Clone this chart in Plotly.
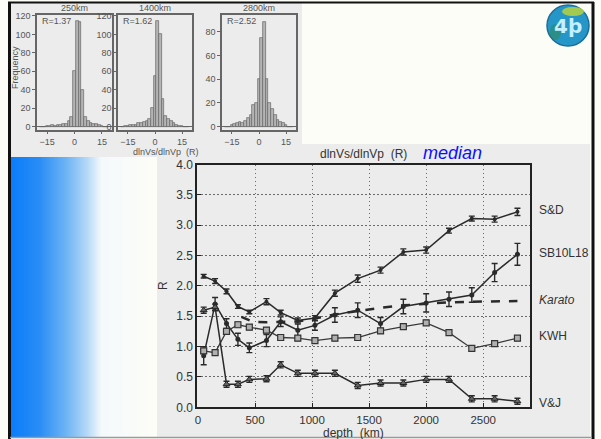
import plotly.graph_objects as go

W, H = 601, 439

# ---- main panel data: dlnVs/dlnVp ratio (median) versus depth ----
depth = [50, 150, 250, 350, 450, 600, 725, 875, 1025, 1200, 1400, 1600, 1800, 2000, 2200, 2400, 2600, 2800]

sd_r = [2.16, 2.08, 1.91, 1.66, 1.57, 1.74, 1.56, 1.43, 1.47, 1.88, 2.12, 2.26, 2.56, 2.59, 2.91, 3.11, 3.10, 3.22]
sd_err = [0.03, 0.04, 0.04, 0.03, 0.03, 0.05, 0.04, 0.04, 0.04, 0.05, 0.06, 0.05, 0.05, 0.05, 0.04, 0.04, 0.05, 0.06]

sb_r = [0.85, 1.70, 1.38, 1.12, 0.98, 1.10, 1.41, 1.27, 1.35, 1.52, 1.60, 1.38, 1.66, 1.72, 1.78, 1.85, 2.22, 2.52]
sb_err = [0.15, 0.11, 0.08, 0.10, 0.08, 0.10, 0.08, 0.10, 0.08, 0.12, 0.12, 0.10, 0.12, 0.15, 0.12, 0.12, 0.15, 0.18]

kwh_r = [0.93, 0.90, 1.25, 1.36, 1.32, 1.27, 1.15, 1.14, 1.10, 1.14, 1.15, 1.26, 1.33, 1.39, 1.23, 0.97, 1.05, 1.14]
kwh_err = [0.04] * 18

vj_r = [1.60, 1.65, 0.38, 0.38, 0.46, 0.47, 0.70, 0.56, 0.56, 0.56, 0.36, 0.40, 0.40, 0.46, 0.46, 0.14, 0.14, 0.10]
vj_err = [0.05] * 18

karato_depth = [380, 480, 600, 700, 800, 900, 1000, 1100, 1200, 1400, 1600, 1800, 2000, 2200, 2400, 2600, 2800]
karato_r = [1.49, 1.41, 1.40, 1.40, 1.41, 1.42, 1.45, 1.49, 1.53, 1.59, 1.64, 1.68, 1.71, 1.73, 1.74, 1.75, 1.75]

series_labels = ["S&D", "SB10L18", "<i>Karato</i>", "KWH", "V&J"]
series_label_r = [3.25, 2.55, 1.77, 1.17, 0.07]

# ---- histogram insets: distribution of R at three depths ----
hist_titles = ["250km", "1400km", "2800km"]
hist_medians = ["R=1.37", "R=1.62", "R=2.52"]
bin_centers = [-18, -16.5, -15, -13.5, -12, -10.5, -9, -7.5, -6, -4.5, -3, -1.5, 0,
               1.5, 3, 4.5, 6, 7.5, 9, 10.5, 12, 13.5, 15, 16.5, 18]
counts_250 = [0, 0, 1, 1, 2, 1, 2, 2, 3, 3, 6, 10, 60, 115, 113, 40, 10, 6, 4, 3, 3, 2, 1, 0, 0]
counts_1400 = [0, 1, 1, 2, 2, 2, 4, 4, 5, 6, 8, 20, 55, 115, 100, 30, 12, 8, 6, 4, 2, 1, 1, 0, 0]
counts_2800 = [0, 0, 1, 2, 3, 4, 3, 5, 7, 10, 18, 20, 40, 75, 88, 40, 20, 15, 10, 6, 4, 3, 1, 0, 0]
hist_counts = [counts_250, counts_1400, counts_2800]
hist_yranges = [[-3.6, 121], [-3.6, 121], [-2.8, 94]]
hist_ytick = [[0, 20, 40, 60, 80, 100, 120], [0, 20, 40, 60, 80, 100, 120], [0, 20, 40, 60, 80]]
hist_x_px = [(37, 112), (118, 192), (222, 296)]

# blue side-band colour stops
band_pos = [0, 1, 2, 3, 4, 5, 6, 7, 8, 9, 10]


def fx(x):
    return x / W


def fy(y):
    return 1 - y / H


fig = go.Figure()

ink = "#2a2a2a"
line_style = dict(color=ink, width=1.5)


def err_style(e):
    return dict(type="data", array=e, visible=True, color=ink, thickness=1.4, width=3)


fig.add_trace(go.Scatter(x=depth, y=sd_r, error_y=err_style(sd_err), mode="lines+markers",
                         line=line_style, marker=dict(symbol="circle", size=4, color=ink),
                         name="S&D", showlegend=False))
fig.add_trace(go.Scatter(x=depth, y=sb_r, error_y=err_style(sb_err), mode="lines+markers",
                         line=line_style, marker=dict(symbol="circle", size=5, color=ink),
                         name="SB10L18", showlegend=False))
fig.add_trace(go.Scatter(x=karato_depth, y=karato_r, mode="lines",
                         line=dict(color=ink, width=2.5, dash="dash"),
                         name="Karato", showlegend=False))
fig.add_trace(go.Scatter(x=depth, y=kwh_r, error_y=err_style(kwh_err), mode="lines+markers",
                         line=dict(color="#3a3a3a", width=1.3),
                         marker=dict(symbol="square", size=6, color="#b0b0b0", line=dict(color="#333", width=1.2)),
                         name="KWH", showlegend=False))
fig.add_trace(go.Scatter(x=depth, y=vj_r, error_y=err_style(vj_err), mode="lines+markers",
                         line=line_style,
                         marker=dict(symbol="triangle-up", size=6, color="#666", line=dict(color="#222", width=1)),
                         name="V&J", showlegend=False))

# histogram insets
for i in range(3):
    k = i + 2
    fig.add_trace(go.Bar(x=bin_centers, y=hist_counts[i], width=1.5,
                         marker=dict(color="#b4b4b4", line=dict(color="#666", width=0.7)),
                         xaxis=f"x{k}", yaxis=f"y{k}", showlegend=False))

# blue gradient band at the left edge
fig.add_trace(go.Heatmap(z=[band_pos, band_pos], x=band_pos, y=[0, 1], zsmooth="best",
                         colorscale=[[0, "#0a7cfc"], [0.2, "#2a8df4"], [0.38, "#6db5f4"],
                                     [0.52, "#b6d9f7"], [0.62, "#f4f9fb"], [1, "#fdfdf7"]],
                         showscale=False, hoverinfo="skip", xaxis="x5", yaxis="y5"))

axis_font = dict(family="Liberation Sans, Arial", size=12, color="#333")
grid_common = dict(showgrid=True, gridcolor="#6a6a6a", griddash="1.5px,2.5px", gridwidth=1,
                   showline=True, linecolor="#222", linewidth=2, mirror=True, zeroline=False,
                   ticks="inside", ticklen=4, tickcolor="#222", automargin=False)
layout = dict(
    width=W, height=H, margin=dict(l=0, r=0, t=0, b=0, pad=0, autoexpand=False),
    paper_bgcolor="#fdfdf7", plot_bgcolor="rgba(0,0,0,0)",
    xaxis=dict(domain=[fx(197.3), fx(530)], range=[-6, 2910], tickvals=[0, 500, 1000, 1500, 2000, 2500],
               tickfont=dict(family="Liberation Sans, Arial", size=11.5, color="#333"),
               ticklabelstandoff=1, **grid_common),
    yaxis=dict(domain=[fy(407.3), fy(164.5)], range=[0, 4], dtick=0.5, tickformat=".1f",
               tickfont=axis_font, **grid_common),
    xaxis5=dict(domain=[fx(10), fx(157)], range=[0, 10], visible=False, fixedrange=True, automargin=False),
    yaxis5=dict(domain=[fy(437), fy(157)], range=[0, 1], visible=False, fixedrange=True, automargin=False),
)

small_font = dict(family="Liberation Sans, Arial", size=9, color="#555")
for i in range(3):
    k = i + 2
    x0, x1 = hist_x_px[i]
    layout[f"xaxis{k}"] = dict(domain=[fx(x0), fx(x1)], range=[-20.5, 20.5], tickvals=[-15, 0, 15],
                               ticktext=["\u221215", "0", "15"],
                               showline=True, linecolor="#666", linewidth=1.5, mirror=True,
                               ticks="outside", ticklen=2, tickcolor="#666", showgrid=False,
                               zeroline=False, tickfont=small_font, anchor=f"y{k}", automargin=False)
    layout[f"yaxis{k}"] = dict(domain=[fy(130), fy(15)], range=hist_yranges[i], tickvals=hist_ytick[i],
                               showline=True, linecolor="#666", linewidth=1.5, mirror=True,
                               ticks="outside", ticklen=3, tickcolor="#666", showgrid=False,
                               zeroline=True, zerolinecolor="#666", zerolinewidth=1,
                               tickfont=small_font, anchor=f"x{k}", automargin=False)

fig.update_layout(**layout)

shapes = [
    # main chart panel
    dict(type="rect", xref="paper", yref="paper", x0=fx(157), x1=fx(590), y0=fy(437), y1=fy(144),
         fillcolor="#ececec", line=dict(width=0), layer="below"),
    # histogram panel
    dict(type="rect", xref="paper", yref="paper", x0=fx(10), x1=fx(302), y0=fy(157), y1=fy(3),
         fillcolor="#ececec", line=dict(width=0), layer="below"),
    # slide frame
    dict(type="line", xref="paper", yref="paper", x0=fx(9.5), x1=fx(9.5), y0=0, y1=fy(2),
         line=dict(color="#111", width=3)),
    dict(type="line", xref="paper", yref="paper", x0=fx(8), x1=fx(594), y0=fy(2.5), y1=fy(2.5),
         line=dict(color="#111", width=2)),
    dict(type="line", xref="paper", yref="paper", x0=fx(593), x1=fx(593), y0=0, y1=fy(2),
         line=dict(color="#111", width=3)),
    dict(type="line", xref="paper", yref="paper", x0=fx(10), x1=fx(592), y0=fy(437.5), y1=fy(437.5),
         line=dict(color="#9a9a9a", width=1.5)),
    # globe logo
    dict(type="circle", xref="paper", yref="paper", x0=fx(547), x1=fx(589), y0=fy(46), y1=fy(5),
         fillcolor="#2696c9", line=dict(color="#1c6e98", width=1.5)),
    dict(type="circle", xref="paper", yref="paper", x0=fx(562), x1=fx(584), y0=fy(16), y1=fy(7),
         fillcolor="#b9d43e", line=dict(width=0), opacity=0.85),
    dict(type="circle", xref="paper", yref="paper", x0=fx(550), x1=fx(561), y0=fy(40), y1=fy(24),
         fillcolor="#2f8a5a", line=dict(width=0), opacity=0.6),
]

annotations = [
    dict(text="dlnVs/dlnVp  (R)", x=fx(363), y=fy(154), xref="paper", yref="paper", showarrow=False,
         font=dict(family="Liberation Sans, Arial", size=12, color="#333"), xanchor="center", yanchor="middle"),
    dict(text="<i>median</i>", x=fx(452), y=fy(153), xref="paper", yref="paper", showarrow=False,
         font=dict(family="Liberation Sans, Arial", size=18, color="#0a10ff"), xanchor="center", yanchor="middle"),
    dict(text="R", x=fx(163), y=fy(286), xref="paper", yref="paper", showarrow=False, textangle=-90,
         font=dict(family="Liberation Sans, Arial", size=12, color="#333"), xanchor="center", yanchor="middle"),
    dict(text="depth  (km)", x=fx(353), y=fy(433), xref="paper", yref="paper", showarrow=False,
         font=dict(family="Liberation Sans, Arial", size=12, color="#333"), xanchor="center", yanchor="middle"),
    dict(text="dlnVs/dlnVp  (R)", x=fx(166), y=fy(152), xref="paper", yref="paper", showarrow=False,
         font=dict(family="Liberation Sans, Arial", size=9, color="#555"), xanchor="center", yanchor="middle"),
    dict(text="Frequency", x=fx(15), y=fy(68), xref="paper", yref="paper", showarrow=False, textangle=-90,
         font=dict(family="Liberation Sans, Arial", size=9, color="#555"), xanchor="center", yanchor="middle"),
    dict(text="<b>4þ</b>", x=fx(568), y=fy(26), xref="paper", yref="paper", showarrow=False,
         font=dict(family="DejaVu Sans", size=20, color="#c4f0ff"), xanchor="center", yanchor="middle"),
]

for lbl, r in zip(series_labels, series_label_r):
    annotations.append(dict(text=lbl, x=fx(537), y=r, xref="paper", yref="y", showarrow=False,
                            font=dict(family="Liberation Sans, Arial", size=12, color="#333"),
                            xanchor="left", yanchor="middle"))

for i in range(3):
    x0, x1 = hist_x_px[i]
    annotations.append(dict(text=hist_titles[i], x=fx((x0 + x1) / 2), y=fy(8), xref="paper", yref="paper",
                            showarrow=False, font=dict(family="Liberation Sans, Arial", size=9, color="#555"),
                            xanchor="center", yanchor="middle"))
    annotations.append(dict(text=hist_medians[i], x=fx(x0 + 3), y=fy(21), xref="paper", yref="paper",
                            showarrow=False, font=dict(family="Liberation Sans, Arial", size=9, color="#555"),
                            xanchor="left", yanchor="middle"))

fig.update_layout(shapes=shapes, annotations=annotations, bargap=0)

fig.write_html("out.html")
